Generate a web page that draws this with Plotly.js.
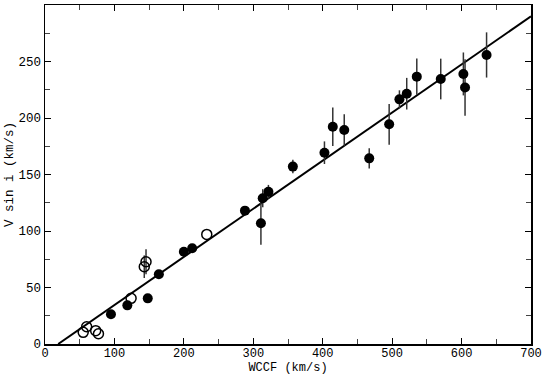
<!DOCTYPE html>
<html>
<head>
<meta charset="utf-8">
<script src="https://cdn.plot.ly/plotly-3.0.1.min.js"></script>
<style>
  html, body { margin: 0; padding: 0; background: #fff; }
  #chart { width: 544px; height: 375px; }
</style>
</head>
<body>
<div id="chart"></div>
<script>
// filled points: WCCF vs V sin i, with vertical errors
let filledX = [95, 118.6, 148, 164, 200, 212, 288, 311, 313.6, 321.8, 357, 402.5, 414.5, 431, 467, 495.7, 510.5, 521, 535.5, 570, 602.6, 605, 636];
let filledY = [26.3, 34.2, 40.4, 61.7, 81.7, 84.7, 118, 106.8, 129, 134.8, 157, 169.3, 192.3, 189.4, 164.3, 194.4, 216.5, 221.5, 236.6, 234.5, 239, 227, 255.8];
let filledErr = [0, 0, 0, 0, 3, 0, 2, 19, 8, 6, 6, 10, 17, 14, 9, 18, 8, 14, 16, 18, 19, 25, 20];

// open points
let openX = [55, 60, 73, 77, 124, 143, 145.5, 233];
let openY = [10.3, 15.3, 11.8, 9.1, 40.4, 68.4, 72.8, 97];
let openErr = [0, 0, 0, 0, 0, 10, 11, 0];

// fitted line
let fitX = [19, 700];
let fitY = [0, 290];

let monoFont = 'Liberation Mono, DejaVu Sans Mono, monospace';

let fitLine = {
    x: fitX,
    y: fitY,
    mode: 'lines',
    line: { color: '#000', width: 2 },
    hoverinfo: 'skip'
}

let filledPoints = {
    x: filledX,
    y: filledY,
    mode: 'markers',
    marker: { symbol: 'circle', size: 10, color: '#000' },
    error_y: { type: 'data', array: filledErr, visible: true, color: '#333', thickness: 1.5, width: 0 }
}

let openPoints = {
    x: openX,
    y: openY,
    mode: 'markers',
    marker: { symbol: 'circle-open', size: 10, color: '#000', line: { width: 1.5 } },
    error_y: { type: 'data', array: openErr, visible: true, color: '#333', thickness: 1.5, width: 0 }
}

let axisBase = {
    showgrid: false,
    zeroline: false,
    showline: true,
    linecolor: '#000',
    linewidth: 1.5,
    mirror: 'ticks',
    ticks: 'inside',
    ticklen: 6,
    tickwidth: 1,
    tickcolor: '#000',
    tickfont: { family: monoFont, size: 12.5, color: '#000' }
}

let layout = {
    width: 544,
    height: 375,
    margin: { l: 45, r: 13, t: 5, b: 31 },
    paper_bgcolor: '#fff',
    plot_bgcolor: '#fff',
    showlegend: false,
    xaxis: Object.assign({}, axisBase, {
        range: [0, 700],
        dtick: 100,
        tickfont: { family: monoFont, size: 12, color: '#000' },
        ticklabelstandoff: -3,
        minor: { dtick: 50, ticks: 'inside', ticklen: 5, tickcolor: '#444' },
        title: { text: 'WCCF (km/s)', font: { family: monoFont, size: 12, color: '#000' }, standoff: 6 }
    }),
    yaxis: Object.assign({}, axisBase, {
        range: [0, 300],
        dtick: 50,
        minor: { dtick: 25, ticks: 'inside', ticklen: 5, tickcolor: '#444' },
        title: { text: 'V sin i (km/s)', font: { family: monoFont, size: 12.5, color: '#000' }, standoff: 2 }
    })
}

Plotly.newPlot('chart', [fitLine, filledPoints, openPoints], layout, { staticPlot: true });
</script>
</body>
</html>
